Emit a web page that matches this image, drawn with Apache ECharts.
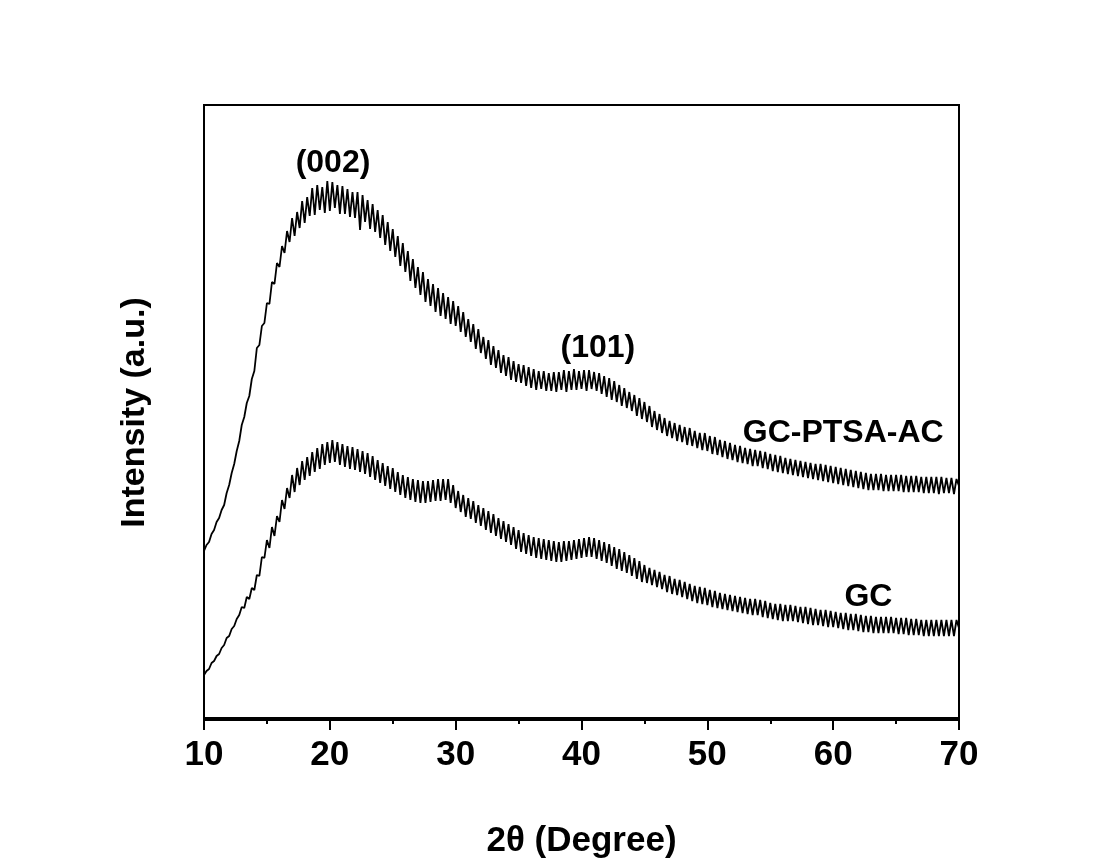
<!DOCTYPE html>
<html>
<head>
<meta charset="utf-8">
<script src="https://cdn.jsdelivr.net/npm/echarts@6/dist/echarts.min.js"></script>
<style>html,body{margin:0;padding:0;background:#fff;}#c{width:1103px;height:864px;}</style>
</head>
<body>
<div id="c"></div>
<script>
const thetaStart = 10;
const thetaStep = 0.2;

// GC-PTSA-AC trace (a.u.), one row per degree: x.0, x.2, x.4, x.6, x.8
const gcPtsaAc = [
  167,173,176,184,188,
  196,200,208,213,225,
  233,245,254,267,277,
  293,301,315,322,339,
  347,370,373,392,395,
  415,414,436,434,455,
  451,472,465,487,476,
  500,482,506,490,517,
  495,521,502,530,503,
  533,508,531,505,537,
  507,536,510,533,504,
  532,504,529,501,526,
  500,526,488,523,496,
  518,489,514,486,508,
  480,503,473,496,467,
  489,461,482,452,475,
  446,467,437,459,430,
  451,423,446,416,439,
  412,434,406,430,402,
  425,399,421,394,417,
  392,412,386,406,381,
  399,376,394,369,389,
  365,381,359,378,353,
  372,350,368,345,363,
  342,361,338,357,336,
  354,335,353,332,351,
  330,349,328,347,329,
  347,327,345,327,346,
  326,346,328,348,326,
  347,328,349,328,347,
  329,348,327,348,329,
  346,327,345,324,342,
  321,340,318,337,316,
  333,312,330,310,326,
  307,323,302,320,299,
  316,296,312,291,307,
  288,304,285,300,282,
  297,280,295,277,293,
  276,291,273,290,272,
  287,270,285,268,285,
  267,282,264,281,263,
  278,261,277,259,275,
  258,273,256,272,255,
  270,254,269,252,268,
  252,267,250,266,249,
  264,247,263,246,262,
  245,260,244,259,243,
  258,242,257,241,256,
  240,255,239,254,238,
  254,237,253,236,252,
  235,251,234,250,233,
  249,232,248,231,247,
  230,246,229,245,228,
  244,228,244,228,244,
  227,243,227,243,227,
  243,227,243,226,242,
  226,242,226,242,226,
  241,225,241,225,241,
  225,241,224,241,225,
  240,225,240,224,239,
  232
];

// GC trace (a.u.)
const gc = [
  43,47,49,55,57,
  62,64,70,73,80,
  82,89,92,99,103,
  111,110,121,119,130,
  128,143,142,161,160,
  178,170,191,182,202,
  196,218,209,230,220,
  243,226,250,233,257,
  238,261,242,266,246,
  270,249,274,253,276,
  255,278,256,276,253,
  274,251,272,249,271,
  248,269,246,267,244,
  265,241,262,238,258,
  235,255,232,252,229,
  250,226,246,223,243,
  220,241,218,239,216,
  238,215,237,215,237,
  216,238,217,239,217,
  239,218,239,215,233,
  210,227,206,223,201,
  220,199,217,195,213,
  192,210,188,207,185,
  204,182,200,179,197,
  176,194,173,191,169,
  188,166,185,164,183,
  162,181,160,180,159,
  179,158,178,157,177,
  156,176,156,177,157,
  177,158,178,159,179,
  160,180,161,181,161,
  180,159,178,157,176,
  155,174,152,171,149,
  169,147,166,145,163,
  142,160,139,157,136,
  153,135,150,133,148,
  131,146,129,143,126,
  142,124,139,123,138,
  121,136,119,134,117,
  132,115,131,114,130,
  113,128,111,127,110,
  125,109,124,108,123,
  107,122,106,121,105,
  120,104,119,103,119,
  103,118,101,117,100,
  115,99,114,98,114,
  97,113,97,113,97,
  112,96,111,95,111,
  94,110,93,109,93,
  108,92,108,91,107,
  91,106,90,105,89,
  105,88,104,88,104,
  87,103,86,102,86,
  102,85,101,85,101,
  85,101,85,101,85,
  100,84,100,84,100,
  83,99,83,99,83,
  98,82,98,82,98,
  82,98,82,98,82,
  98,82,98,82,98,
  90
];

// Text annotations: [2θ, intensity, label]
const annotations = [
  [20.25, 555, '(002)'],
  [41.3, 370, '(101)'],
  [60.8, 285, 'GC-PTSA-AC'],
  [62.8, 121, 'GC']
];

const xTicks = { min: 10, max: 70, interval: 10 };
const xTitle = '2θ (Degree)';
const yTitle = 'Intensity (a.u.)';

function toPairs(arr) {
  return arr.map((v, i) => [+(thetaStart + i * thetaStep).toFixed(2), v]);
}

const FONT = '"Liberation Sans", Arial, sans-serif';
const chart = echarts.init(document.getElementById('c'));
chart.setOption({
  animation: false,
  backgroundColor: '#ffffff',
  grid: {
    left: 204, right: 144, top: 105, bottom: 144,
    show: true, borderColor: '#000', borderWidth: 2, backgroundColor: 'transparent'
  },
  xAxis: {
    type: 'value',
    min: xTicks.min, max: xTicks.max, interval: xTicks.interval,
    name: xTitle, nameLocation: 'middle', nameGap: 104,
    nameTextStyle: { fontFamily: FONT, fontWeight: 'bold', fontSize: 35, color: '#000' },
    axisLine: { show: true, lineStyle: { color: '#000', width: 2 } },
    axisTick: { show: true, inside: false, length: 12, lineStyle: { color: '#000', width: 2 } },
    minorTick: { show: true, splitNumber: 2, length: 6, lineStyle: { color: '#000', width: 2 } },
    axisLabel: { fontFamily: FONT, fontWeight: 'bold', fontSize: 35, color: '#000', margin: 18 },
    splitLine: { show: false }
  },
  yAxis: {
    type: 'value',
    min: -2, max: 613,
    name: yTitle, nameLocation: 'middle', nameGap: 52,
    nameTextStyle: { fontFamily: FONT, fontWeight: 'bold', fontSize: 34, color: '#000' },
    axisLine: { show: true, lineStyle: { color: '#000', width: 2 } },
    axisTick: { show: false },
    axisLabel: { show: false },
    splitLine: { show: false }
  },
  series: [
    {
      name: 'GC-PTSA-AC', type: 'line', data: toPairs(gcPtsaAc),
      symbol: 'none', lineStyle: { color: '#000', width: 1.8 }
    },
    {
      name: 'GC', type: 'line', data: toPairs(gc),
      symbol: 'none', lineStyle: { color: '#000', width: 1.8 }
    },
    {
      name: 'labels', type: 'scatter', data: annotations,
      symbolSize: 1, silent: true,
      itemStyle: { opacity: 0 },
      label: {
        show: true, position: 'inside', opacity: 1,
        formatter: p => p.data[2],
        fontFamily: FONT, fontWeight: 'bold', fontSize: 32, color: '#000',
        textBorderWidth: 0
      }
    }
  ]
});
</script>
</body>
</html>
